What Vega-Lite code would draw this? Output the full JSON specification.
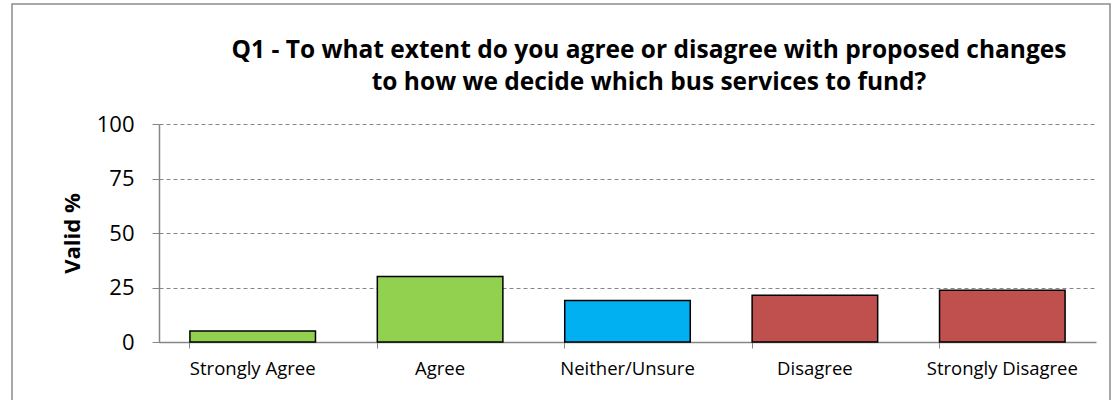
{
  "$schema": "https://vega.github.io/schema/vega-lite/v6.json",
  "autosize": {"type": "none"},
  "width": 1098,
  "height": 398,
  "padding": {"left": 12, "top": 4, "right": 7, "bottom": 0},
  "background": "white",
  "title": {
    "text": ["Q1 - To what extent do you agree or disagree with proposed changes", "to how we decide which bus services to fund?"],
    "font": "Open Sans",
    "fontSize": 24.5,
    "fontWeight": "bold",
    "color": "#000000",
    "anchor": "middle",
    "baseline": "bottom",
    "dx": 88,
    "offset": -115,
    "lineHeight": 32
  },
  "data": {
    "values": [
      {"response": "Strongly Agree", "pct": 5, "group": "agree"},
      {"response": "Agree", "pct": 30, "group": "agree"},
      {"response": "Neither/Unsure", "pct": 19, "group": "neither"},
      {"response": "Disagree", "pct": 21.5, "group": "disagree"},
      {"response": "Strongly Disagree", "pct": 23.7, "group": "disagree"}
    ]
  },
  "mark": {"type": "bar", "stroke": "#000000", "strokeWidth": 1.5},
  "encoding": {
    "x": {
      "field": "response",
      "type": "nominal",
      "sort": null,
      "scale": {"paddingInner": 0.33, "paddingOuter": 0.165, "range": [147, 1084]},
      "axis": {
        "title": null,
        "offset": -60,
        "labelAngle": 0,
        "labelFont": "Open Sans",
        "labelFontSize": 18.5,
        "labelColor": "#000000",
        "labelPadding": 11,
        "bandPosition": 0,
        "tickSize": 6,
        "tickColor": "#868686",
        "domainColor": "#868686",
        "domainWidth": 1.5,
        "grid": false
      }
    },
    "y": {
      "field": "pct",
      "type": "quantitative",
      "scale": {"domain": [0, 100], "range": [338, 120]},
      "axis": {
        "title": "Valid %",
        "offset": -147,
        "titleFont": "Open Sans",
        "titleFontSize": 22,
        "titleFontWeight": "bold",
        "titleColor": "#000000",
        "titlePadding": 12,
        "values": [0, 25, 50, 75, 100],
        "labelFont": "Open Sans",
        "labelFontSize": 22,
        "labelColor": "#000000",
        "labelPadding": 18,
        "tickSize": 7,
        "tickColor": "#868686",
        "domainColor": "#868686",
        "domainWidth": 1.5,
        "grid": true,
        "gridColor": "#868686",
        "gridDash": [4, 3],
        "gridWidth": 1
      }
    },
    "color": {
      "field": "group",
      "type": "nominal",
      "scale": {"domain": ["agree", "neither", "disagree"], "range": ["#92D050", "#00B0F0", "#C0504D"]},
      "legend": null
    }
  },
  "config": {"view": {"stroke": "#8C8C8C", "strokeWidth": 1.5}}
}
